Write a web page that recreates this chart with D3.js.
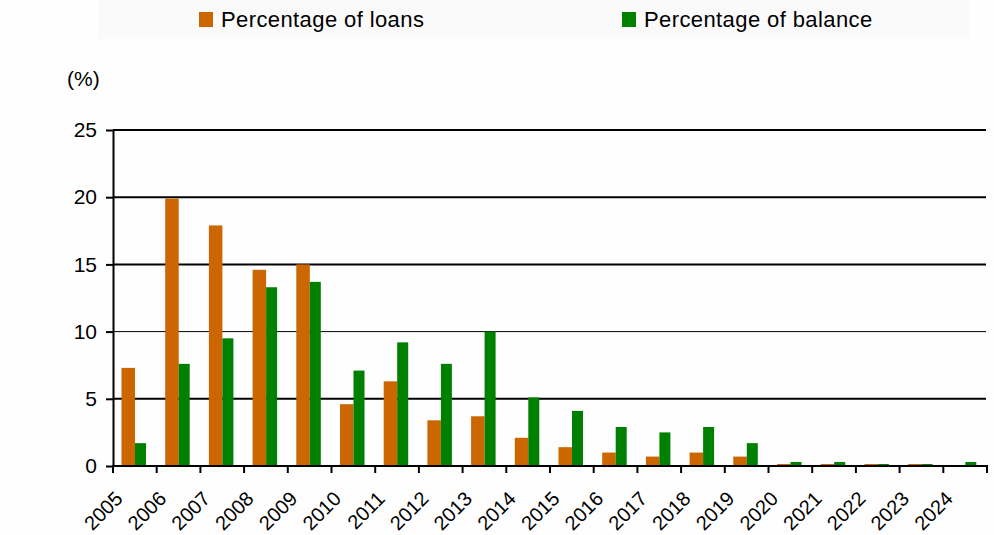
<!DOCTYPE html>
<html>
<head>
<meta charset="utf-8">
<script src="https://cdn.jsdelivr.net/npm/d3@7"></script>
<style>
  body { margin: 0; background: #fefefe; }
  svg { display: block; font-family: "Liberation Sans", Arial, sans-serif; }
</style>
</head>
<body>
<svg id="chart" width="994" height="535"></svg>
<script>
var years = ["2005", "2006", "2007", "2008", "2009", "2010", "2011", "2012", "2013", "2014",
             "2015", "2016", "2017", "2018", "2019", "2020", "2021", "2022", "2023", "2024"];
var loans = [7.3, 19.9, 17.9, 14.6, 15.0, 4.6, 6.3, 3.4, 3.7, 2.1,
             1.4, 1.0, 0.7, 1.0, 0.7, 0.15, 0.15, 0.15, 0.15, 0];
var balance = [1.7, 7.6, 9.5, 13.3, 13.7, 7.1, 9.2, 7.6, 10.0, 5.1,
               4.1, 2.9, 2.5, 2.9, 1.7, 0.3, 0.3, 0.15, 0.15, 0.3];
var yTicks = [0, 5, 10, 15, 20, 25];
var seriesNames = ["Percentage of loans", "Percentage of balance"];

var loanColor = "#cc6600";
var balanceColor = "#008000";

var svg = d3.select("#chart");

// legend box
svg.append("rect")
    .attr("x", 99).attr("y", 0)
    .attr("width", 870).attr("height", 39)
    .style("fill", "#fafafa");

var legendX = [199, 622];
var legendColors = [loanColor, balanceColor];
seriesNames.forEach(function (name, i) {
    svg.append("rect")
        .attr("x", legendX[i]).attr("y", 12)
        .attr("width", 14).attr("height", 15)
        .style("fill", legendColors[i]);
    svg.append("text")
        .attr("x", legendX[i] + 22)
        .attr("y", 27)
        .style("font-size", "22px")
        .style("letter-spacing", "0.4px")
        .text(name);
});

var xScale = d3.scaleBand()
    .domain(years)
    .range([113, 987])
    .padding(0);

var yScale = d3.scaleLinear()
    .domain([0, 25])
    .range([466, 130]);

// unit label
svg.append("text")
    .attr("x", 67)
    .attr("y", 86)
    .style("font-size", "21px")
    .text("(%)");

// gridlines
svg.append("g").selectAll("line")
    .data(yTicks)
    .enter().append("line")
    .attr("x1", 113).attr("x2", 986)
    .attr("y1", function (d) { return yScale(d); })
    .attr("y2", function (d) { return yScale(d); })
    .style("stroke", "#000")
    .style("stroke-width", function (d) { return d === 10 ? 1 : 2; });

// y axis
var yAxis = d3.axisLeft(yScale)
    .tickValues(yTicks)
    .tickSize(7)
    .tickSizeOuter(0)
    .tickPadding(9);

var yg = svg.append("g")
    .attr("transform", "translate(113,0)")
    .call(yAxis);
yg.select(".domain").style("stroke", "#000").style("stroke-width", 2);
yg.selectAll(".tick line").style("stroke", "#000").style("stroke-width", 2);
yg.selectAll(".tick text")
    .style("font-size", "21px")
    .style("font-family", "\"Liberation Sans\", Arial, sans-serif")
    .style("fill", "#000");

// bars
var groups = svg.append("g").selectAll(".bar")
    .data(years)
    .enter().append("g")
    .attr("class", "bar");

groups.append("rect")
    .attr("x", function (d) { return xScale(d) + 8.5; })
    .attr("y", function (d, i) { return yScale(loans[i]); })
    .attr("width", 13.5)
    .attr("height", function (d, i) { return yScale(0) - yScale(loans[i]); })
    .style("fill", loanColor);

groups.append("rect")
    .attr("x", function (d) { return xScale(d) + 22; })
    .attr("y", function (d, i) { return yScale(balance[i]); })
    .attr("width", 11)
    .attr("height", function (d, i) { return yScale(0) - yScale(balance[i]); })
    .style("fill", balanceColor);

// x axis baseline
svg.append("line")
    .attr("x1", 112).attr("x2", 988)
    .attr("y1", yScale(0)).attr("y2", yScale(0))
    .style("stroke", "#000")
    .style("stroke-width", 2);

// x ticks at band edges
var edges = years.map(function (d) { return xScale(d); });
edges.push(xScale.range()[1]);
svg.append("g").selectAll("line")
    .data(edges)
    .enter().append("line")
    .attr("x1", function (d) { return d; })
    .attr("x2", function (d) { return d; })
    .attr("y1", yScale(0))
    .attr("y2", yScale(0) + 7)
    .style("stroke", "#000")
    .style("stroke-width", 2);

// x labels
svg.append("g").selectAll("text")
    .data(years)
    .enter().append("text")
    .attr("text-anchor", "end")
    .attr("transform", function (d) {
        var cx = xScale(d) + xScale.bandwidth() / 2 - 11;
        return "translate(" + cx + ",500) rotate(-45)";
    })
    .style("font-size", "20px")
    .text(function (d) { return d; });
</script>
</body>
</html>
